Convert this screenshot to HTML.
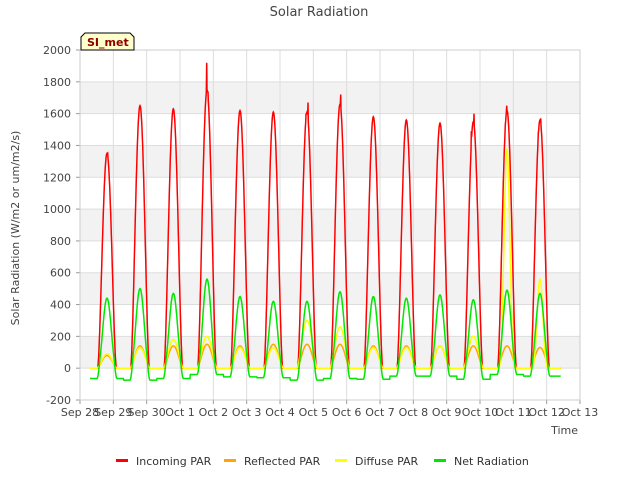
<!DOCTYPE html>
<html><head><meta charset="utf-8"><style>
body{margin:0;background:#fff;font-family:"Liberation Sans","DejaVu Sans",sans-serif}
svg text{font-family:"DejaVu Sans","Liberation Sans",sans-serif}
</style></head><body>
<svg id="c" width="640" height="480">
<rect width="640" height="480" fill="#fff"/>
<g id="bands"></g><g id="grid"></g>
<text x="319" y="16" text-anchor="middle" font-size="13" fill="#444">Solar Radiation</text>
<text x="19" y="228" text-anchor="middle" font-size="11" fill="#444" transform="rotate(-90 19 228)">Solar Radiation (W/m2 or um/m2/s)</text>
<text x="578" y="434" text-anchor="end" font-size="11" fill="#444">Time</text>
<g id="yt"></g><g id="xt"></g>
<g id="series"></g>
<rect x="80" y="50" width="500" height="350" fill="none" stroke="#ccc"/>
<g><path d="M81,50 L81,37 L85,33 L130,33 L134,37 L134,50 Z" fill="#ffffcc" stroke="#000"/>
<text x="87" y="46" font-size="11" font-weight="bold" fill="#8b0000">SI_met</text></g>
<g id="legend"></g>
</svg>
<script>
const yTicks=[-200,0,200,400,600,800,1000,1200,1400,1600,1800,2000];
const xLabels=["Sep 28","Sep 29","Sep 30","Oct 1","Oct 2","Oct 3","Oct 4","Oct 5","Oct 6","Oct 7","Oct 8","Oct 9","Oct 10","Oct 11","Oct 12","Oct 13"];
const peakDay=[0.81,1.8,2.8,3.81,4.8,5.8,6.81,7.8,8.8,9.79,10.8,11.8,12.81,13.8];
const incomingPeak=[1350,1650,1630,1750,1620,1610,1610,1660,1580,1560,1540,1550,1620,1560];
const netPeak=[440,500,470,560,450,420,420,480,450,440,460,430,490,470];
const reflPeak=[80,140,140,150,140,150,150,150,140,140,140,140,140,130];
const diffPeak=[90,130,180,200,130,130,300,260,130,130,140,200,1380,560];
const nightNet=[-65,-75,-65,-40,-55,-60,-75,-65,-70,-50,-50,-70,-40,-50];
const incSpikes=[[0.72,300],[0.78,1120],[0.8,640],[0.83,1350],[0.87,550],[3.74,760],[3.8,1920],[3.84,1740],[3.88,1400],[6.78,1600],[6.81,1290],[6.84,1670],[7.74,1210],[7.77,920],[7.82,1720],[7.86,1040],[11.74,1490],[11.77,990],[11.82,1600],[12.76,1530],[12.8,1650],[12.84,1210],[13.75,1480],[13.82,1570],[13.87,740]];
const X=d=>80+d*500/15, Y=v=>400-(v+200)*350/2200;
const NS="http://www.w3.org/2000/svg";
function el(t,a,p){const e=document.createElementNS(NS,t);for(const k in a)e.setAttribute(k,a[k]);document.getElementById(p).appendChild(e);return e;}
for(let i=0;i<yTicks.length-1;i++){if(yTicks[i]>=0&&(yTicks[i]/200)%2==0){const b=el('rect',{x:80,y:Y(yTicks[i]+200),width:500,height:Y(yTicks[i])-Y(yTicks[i]+200),fill:'#f2f2f2'},'bands');
}}
yTicks.forEach(v=>{el('line',{x1:80,x2:580,y1:Y(v),y2:Y(v),stroke:'#ddd'},'grid');
const t=el('text',{x:71,y:Y(v)+4,'text-anchor':'end','font-size':11,fill:'#444'},'yt');t.textContent=v;

el('line',{x1:76,x2:80,y1:Y(v),y2:Y(v),stroke:'#999'},'yt');});
xLabels.forEach((s,i)=>{el('line',{x1:X(i),x2:X(i),y1:50,y2:400,stroke:'#ddd'},'grid');
el('line',{x1:X(i),x2:X(i),y1:400,y2:404,stroke:'#999'},'xt');
const t=el('text',{x:X(i),y:416,'text-anchor':'middle','font-size':11,fill:'#444'},'xt');t.textContent=s;
});
const t0=0.3,t1=14.42,dt=0.01;
function shape(t,i,w){const u=(t-peakDay[i])/w;return Math.abs(u)<1?Math.pow(Math.cos(u*Math.PI/2),1.6):0;}
function nearest(t){let b=0;peakDay.forEach((p,i)=>{if(Math.abs(p-t)<Math.abs(peakDay[b]-t))b=i;});return b;}
function series(fn){let pts=[];for(let t=t0;t<=t1;t+=dt){pts.push(X(t).toFixed(1)+','+Y(fn(t)).toFixed(1));}return pts.join(' ');}
const inc=t=>{const i=nearest(t);let v=incomingPeak[i]*shape(t,i,0.28);incSpikes.forEach(s=>{if(Math.abs(s[0]-t)<0.006)v=Math.max(v,s[1]);});return v;};
const refl=t=>{const i=nearest(t);return reflPeak[i]*shape(t,i,0.3);};
const diff=t=>{const i=nearest(t);return diffPeak[i]*Math.pow(shape(t,i,0.3),diffPeak[i]>400?3:1);};
const net=t=>{const i=nearest(t);const s=shape(t,i,0.3);return nightNet[i]*(1-Math.min(1,s*4))+netPeak[i]*Math.pow(s,1.5);};
const defs=[['incoming-par-line',inc,'#ff0000'],['reflected-par-line',refl,'#ffa500'],['diffuse-par-line',diff,'#ffff00'],['net-radiation-line',net,'#00e600']];
defs.forEach(d=>{const p=el('polyline',{points:series(d[1]),fill:'none',stroke:d[2],'stroke-width':1.5},'series');
});
const leg=[['Incoming PAR','#ff0000',116],['Reflected PAR','#ffa500',224],['Diffuse PAR','#ffff00',335],['Net Radiation','#00e600',434]];
leg.forEach(l=>{const g=el('g',{},'legend');
const a=document.createElementNS(NS,'rect');a.setAttribute('x',l[2]);a.setAttribute('y',459);a.setAttribute('width',12);a.setAttribute('height',3);a.setAttribute('fill',l[1]);g.appendChild(a);
const t=document.createElementNS(NS,'text');t.setAttribute('x',l[2]+20);t.setAttribute('y',465);t.setAttribute('font-size',11);t.setAttribute('fill','#333');t.textContent=l[0];g.appendChild(t);});
</script>
</body></html>
